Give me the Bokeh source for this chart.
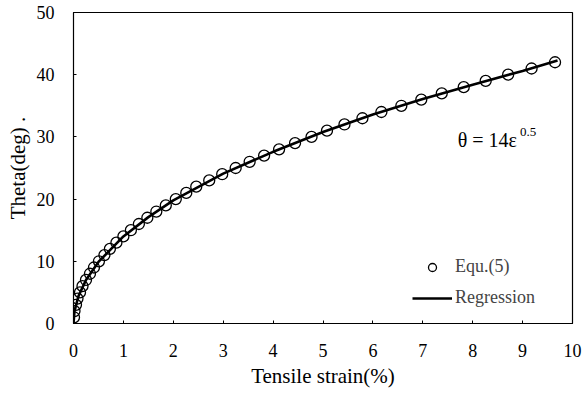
from bokeh.plotting import figure
from bokeh.models import Range1d, Legend, LegendItem, Label, FixedTicker
from bokeh.embed import file_html
from bokeh.resources import INLINE

# Equ.(5) points (strain %, theta deg)
strain_pts = [0.01, 0.02, 0.05, 0.08, 0.13, 0.18, 0.25, 0.33, 0.41, 0.51,
              0.62, 0.73, 0.86, 1.00, 1.15, 1.31, 1.48, 1.66, 1.85, 2.05,
              2.26, 2.46, 2.72, 2.98, 3.25, 3.53, 3.82, 4.12, 4.44, 4.77,
              5.08, 5.43, 5.79, 6.17, 6.57, 6.97, 7.38, 7.82, 8.26, 8.71,
              9.18, 9.65]
theta_pts = [1, 2, 3, 4, 5, 6, 7, 8, 9, 10,
             11, 12, 13, 14, 15, 16, 17, 18, 19, 20,
             21, 22, 23, 24, 25, 26, 27, 28, 29, 30,
             31, 32, 33, 34, 35, 36, 37, 38, 39, 40,
             41, 42]

# Regression curve
strain_reg = [0.0, 0.02, 0.1, 0.25, 0.5, 1.0, 1.5, 2.0, 3.0, 4.0, 5.0,
              6.0, 7.0, 8.0, 9.0, 9.7]
theta_reg = [0.0, 2.0, 4.4, 7.0, 9.9, 14.0, 17.1, 19.8, 24.1, 27.6, 30.8,
             33.6, 36.1, 38.4, 40.6, 42.3]

x_ticks = [0, 1, 2, 3, 4, 5, 6, 7, 8, 9, 10]
y_ticks = [0, 10, 20, 30, 40, 50]

FONT = "Liberation Serif"

p = figure(width=587, height=394, output_backend="svg", toolbar_location=None,
           x_range=Range1d(0, 10), y_range=Range1d(0, 50),
           min_border_left=73, min_border_right=15, min_border_top=12,
           min_border_bottom=71)
p.grid.visible = False
p.outline_line_color = "black"
p.outline_line_width = 1.2
p.background_fill_color = "white"
p.border_fill_color = "white"

for ax in (p.xaxis[0], p.yaxis[0]):
    ax.major_label_text_font = FONT
    ax.major_label_text_font_size = "18px"
    ax.major_label_text_color = "black"
    ax.axis_label_text_font = FONT
    ax.axis_label_text_font_size = "21px"
    ax.axis_label_text_font_style = "normal"
    ax.axis_label_text_color = "black"
    ax.axis_line_color = "black"
    ax.major_tick_in = 3
    ax.major_tick_out = 0
    ax.minor_tick_line_color = None

p.xaxis.ticker = FixedTicker(ticks=x_ticks)
p.yaxis.ticker = FixedTicker(ticks=y_ticks)
p.xaxis.axis_label = "Tensile strain(%)"
p.yaxis.axis_label = "Theta(deg) ."
p.xaxis.major_label_standoff = 20
p.yaxis.major_label_standoff = 19
p.xaxis.axis_label_standoff = 4
p.yaxis.axis_label_standoff = 4

sc = p.scatter(strain_pts, theta_pts, marker="circle", size=11,
               line_color="black", line_width=1.3, fill_alpha=0)
ln = p.line(strain_reg, theta_reg, line_color="black", line_width=2.6)

legend = Legend(items=[LegendItem(label="Equ.(5)", renderers=[sc]),
                       LegendItem(label="Regression", renderers=[ln])],
                location=(339, 15), padding=0, margin=0, spacing=10,
                glyph_width=40, glyph_height=20, label_height=20,
                label_standoff=3, border_line_color=None,
                background_fill_alpha=0,
                label_text_font=FONT, label_text_font_size="18px")
p.add_layout(legend)

p.add_layout(Label(x=7.7, y=27.8, text="θ = 14ε", text_font=FONT,
                   text_font_size="20px", text_color="black"))
p.add_layout(Label(x=8.95, y=30.1, text="0.5", text_font=FONT,
                   text_font_size="13px", text_color="black"))

open("out.html", "w").write(file_html(p, INLINE))
